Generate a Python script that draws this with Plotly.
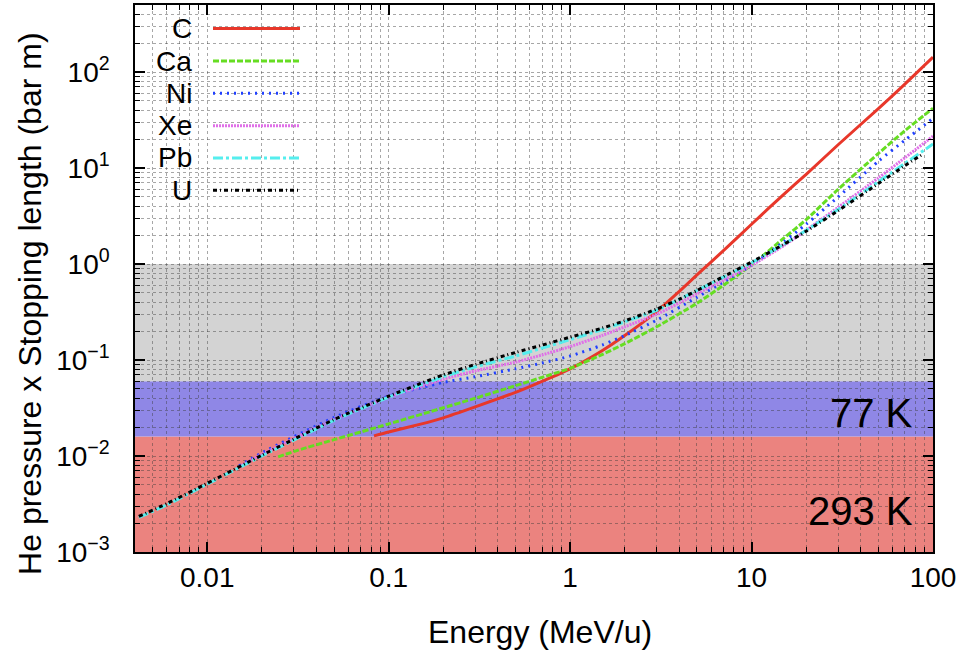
import plotly.graph_objects as go
import numpy as np

# ---------------- data ----------------
E_C  = [0.083, 0.1, 0.15, 0.2, 0.3, 0.5, 0.7, 1.0, 1.5, 2.0, 3.0, 4.0, 5.0, 7.0, 10, 15, 20, 30, 50, 70, 100]
Y_C  = [0.0162, 0.0178, 0.0215, 0.025, 0.0325, 0.046, 0.060, 0.081, 0.125, 0.18, 0.32, 0.52, 0.77, 1.38, 2.6, 5.3, 8.6, 17.5, 41.7, 75, 143]

E_Ca = [0.0246, 0.0317, 0.05, 0.1, 0.2, 0.3, 0.5, 0.7, 1.0, 1.5, 2.0, 3.0, 5.0, 7.0, 10, 15, 20, 30, 50, 70, 100]
Y_Ca = [0.0098, 0.0115, 0.0148, 0.0216, 0.0318, 0.040, 0.054, 0.066, 0.082, 0.114, 0.148, 0.222, 0.39, 0.60, 0.98, 1.85, 2.9, 6.0, 14.2, 24.5, 42]

E_Ni = [0.015, 0.02, 0.05, 0.1, 0.2, 0.3, 0.5, 0.7, 1.0, 1.5, 2.0, 3.0, 5.0, 7.0, 10, 15, 20, 30, 50, 70, 100]
Y_Ni = [0.0079, 0.0108, 0.0252, 0.042, 0.0585, 0.067, 0.081, 0.093, 0.11, 0.143, 0.18, 0.26, 0.45, 0.65, 0.97, 1.7, 2.6, 5.0, 11.8, 19.5, 33]

E_Xe = [0.015, 0.02, 0.05, 0.1, 0.2, 0.3, 0.5, 0.7, 1.0, 1.5, 2.0, 3.0, 5.0, 7.0, 10, 15, 20, 30, 50, 70, 100]
Y_Xe = [0.0077, 0.0104, 0.024, 0.041, 0.063, 0.077, 0.095, 0.113, 0.138, 0.18, 0.222, 0.30, 0.49, 0.68, 0.97, 1.55, 2.25, 3.9, 7.9, 12.8, 21.5]

E_Pb = [0.0042, 0.006, 0.01, 0.02, 0.05, 0.1, 0.15, 0.2, 0.3, 0.5, 0.7, 1.0, 1.5, 2.0, 3.0, 5.0, 7.0, 10, 15, 20, 30, 50, 70, 100]
Y_Pb = [0.0023, 0.0031, 0.0051, 0.0100, 0.0235, 0.041, 0.055, 0.067, 0.085, 0.110, 0.133, 0.163, 0.207, 0.25, 0.33, 0.53, 0.73, 1.03, 1.6, 2.25, 3.7, 7.2, 11.2, 17.8]

E_U  = [0.0042, 0.006, 0.01, 0.02, 0.05, 0.1, 0.15, 0.2, 0.3, 0.5, 0.7, 1.0, 1.5, 2.0, 3.0, 4.0, 5.0, 7.0, 10, 15, 20, 30, 50, 70, 88]
Y_U  = [0.00235, 0.0032, 0.0052, 0.0102, 0.024, 0.042, 0.057, 0.070, 0.090, 0.120, 0.143, 0.173, 0.215, 0.256, 0.34, 0.43, 0.53, 0.74, 1.05, 1.6, 2.2, 3.6, 6.9, 10.6, 14.0]

series_names = ["C", "Ca", "Ni", "Xe", "Pb", "U"]
series_E = [E_C, E_Ca, E_Ni, E_Xe, E_Pb, E_U]
series_Y = [Y_C, Y_Ca, Y_Ni, Y_Xe, Y_Pb, Y_U]
series_colors = ["#e8372a", "#66dd22", "#2040ff", "#e070e8", "#55eeee", "#000000"]
series_dash = ["solid", "6px,2px", "2px,5px", "2px,1px", "10px,3px,3px,3px", "4px,3px,1px,3px"]

# temperature bands
band_low = [0.001, 0.016, 0.06]
band_high = [0.016, 0.06, 1.0]
band_colors = ["rgb(235,131,127)", "rgb(143,135,230)", "rgb(211,211,211)"]

x_ticks = [0.01, 0.1, 1, 10, 100]
x_ticktext = ["0.01", "0.1", "1", "10", "100"]
y_ticks = [1e-3, 1e-2, 1e-1, 1, 10, 100]
y_ticktext = ["10<sup>−3</sup>", "10<sup>−2</sup>", "10<sup>−1</sup>", "10<sup>0</sup>", "10<sup>1</sup>", "10<sup>2</sup>"]

x_minor = [m * 10.0 ** d for d in range(-3, 2) for m in range(2, 10)]
y_minor = [m * 10.0 ** d for d in range(-3, 3) for m in range(2, 10)]

FONT = "Liberation Sans, Arial, Helvetica, sans-serif"

fig = go.Figure()

for name, ex, yv, col, dash in zip(series_names, series_E, series_Y, series_colors, series_dash):
    fig.add_trace(go.Scatter(x=ex, y=yv, mode="lines", name=name,
                             line=dict(color=col, width=3, dash=dash, shape="spline", smoothing=0.6),
                             showlegend=False))

shapes = []
for lo, hi, col in zip(band_low, band_high, band_colors):
    shapes.append(dict(type="rect", xref="paper", yref="y", x0=0, x1=1, y0=lo, y1=hi,
                       fillcolor=col, line=dict(width=0), layer="below"))

L, R, T, B = 135, 933, 3, 552
W, H = R - L, B - T
def px(x):
    return (x - L) / W
def py(y):
    return (B - y) / H

# legend backdrop
shapes.append(dict(type="rect", xref="paper", yref="paper", x0=px(153), x1=px(310),
                   y0=py(207), y1=1, fillcolor="white", line=dict(width=0), layer="between"))

annotations = []
leg_rows = [26.7, 59.3, 91.5, 124.3, 156.5, 189]
for name, col, dash, ry in zip(series_names, series_colors, series_dash, leg_rows):
    annotations.append(dict(xref="paper", yref="paper", x=px(194), y=py(ry), text=name,
                            showarrow=False, xanchor="right", yanchor="middle",
                            font=dict(size=28, color="black", family=FONT)))
    shapes.append(dict(type="line", xref="paper", yref="paper", x0=px(213), x1=px(300),
                       y0=py(ry), y1=py(ry), line=dict(color=col, width=3, dash=dash),
                       layer="above"))

annotations.append(dict(xref="paper", yref="paper", x=px(915), y=py(412), text="77 K",
                        showarrow=False, xanchor="right", yanchor="middle",
                        font=dict(size=40, color="black", family=FONT)))
annotations.append(dict(xref="paper", yref="paper", x=px(915), y=py(511), text="293 K",
                        showarrow=False, xanchor="right", yanchor="middle",
                        font=dict(size=40, color="black", family=FONT)))

annotations.append(dict(xref="paper", yref="paper", x=px(540), y=py(632), text="Energy (MeV/u)",
                        showarrow=False, xanchor="center", yanchor="middle",
                        font=dict(size=32, color="black", family=FONT)))
annotations.append(dict(xref="paper", yref="paper", x=px(30), y=py(303),
                        text="He pressure x Stopping length (bar m)", textangle=-90,
                        showarrow=False, xanchor="center", yanchor="middle",
                        font=dict(size=32, color="black", family=FONT)))

grid = dict(gridcolor="rgba(60,60,60,0.45)", griddash="dot", gridwidth=1)

fig.update_layout(
    width=969, height=656,
    margin=dict(l=L, r=969 - R, t=T, b=656 - B, pad=0),
    paper_bgcolor="white", plot_bgcolor="white",
    font=dict(family=FONT, size=28, color="black"),
    shapes=shapes, annotations=annotations, showlegend=False,
    xaxis=dict(type="log", range=[np.log10(0.004), 2], tickmode="array",
               tickvals=x_ticks, ticktext=x_ticktext, ticks="inside", ticklen=10,
               tickwidth=1.5, tickcolor="black", showline=True, linecolor="black",
               linewidth=1.5, mirror="allticks", showgrid=True, **grid,
               tickfont=dict(size=28, family=FONT), ticklabelstandoff=0,
               minor=dict(tickmode="array", tickvals=x_minor, ticks="inside", ticklen=5,
                          tickcolor="black", tickwidth=1, showgrid=True, **grid),
               zeroline=False),
    yaxis=dict(type="log", range=[-3, np.log10(500)], tickmode="array",
               tickvals=y_ticks, ticktext=y_ticktext, ticks="inside", ticklen=10,
               tickwidth=1.5, tickcolor="black", showline=True, linecolor="black",
               linewidth=1.5, mirror="allticks", showgrid=True, **grid,
               tickfont=dict(size=28, family=FONT), ticklabelstandoff=18,
               minor=dict(tickmode="array", tickvals=y_minor, ticks="inside", ticklen=5,
                          tickcolor="black", tickwidth=1, showgrid=True, **grid),
               zeroline=False),
)

fig.write_html("out.html")
